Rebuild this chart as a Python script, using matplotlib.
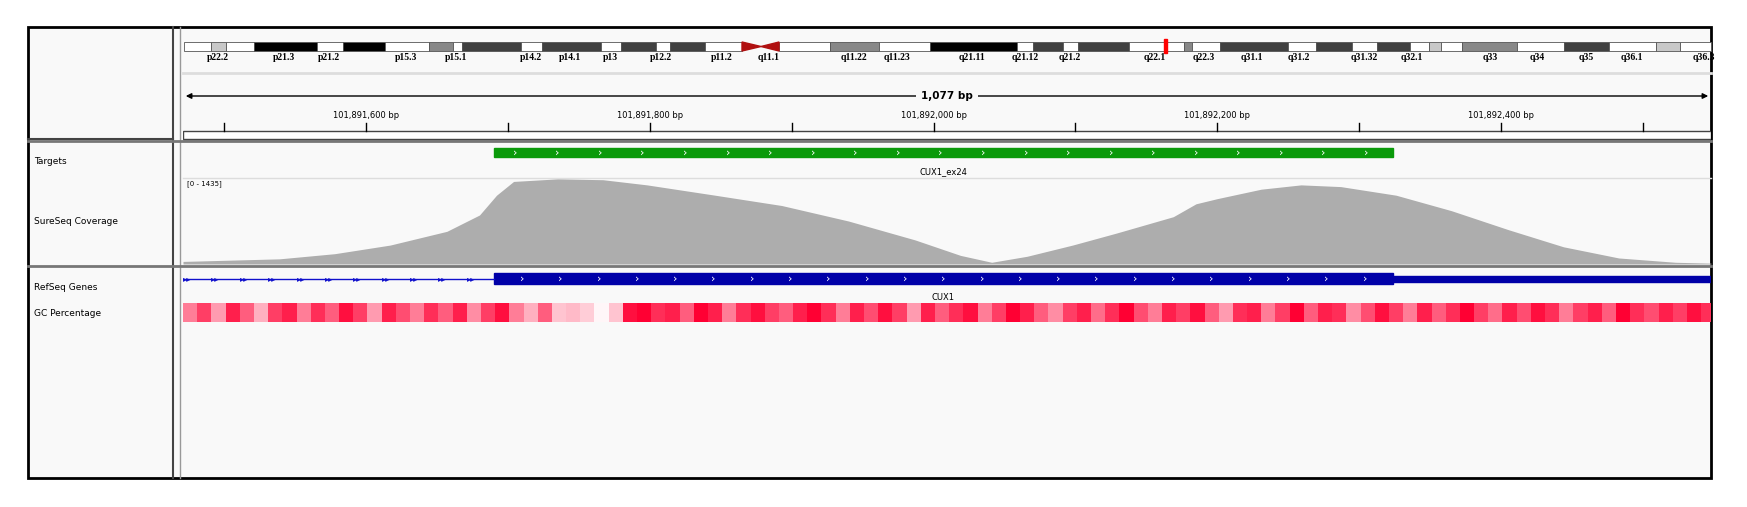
import matplotlib.pyplot as plt
import numpy as np
from matplotlib.colors import LinearSegmentedColormap

W, H = 1747, 507
START, END = 101891471, 101892548

# chr7 ideogram bands (pixel span, shade)
BANDS = [(184, 211, 'w'), (211, 226, '#c8c8c8'), (226, 254, 'w'), (254, 317, 'k'), (317, 343, 'w'),
         (343, 385, 'k'), (385, 429, 'w'), (429, 453, '#888888'), (453, 462, 'w'), (462, 521, '#404040'),
         (521, 542, 'w'), (542, 601, '#404040'), (601, 621, 'w'), (621, 656, '#404040'), (656, 670, 'w'),
         (670, 705, '#404040'), (705, 742, 'w'), (779, 830, 'w'), (830, 879, '#888888'), (879, 930, 'w'),
         (930, 1017, 'k'), (1017, 1033, 'w'), (1033, 1063, '#404040'), (1063, 1078, 'w'), (1078, 1129, '#404040'),
         (1129, 1184, 'w'), (1184, 1192, '#888888'), (1192, 1220, 'w'), (1220, 1288, '#404040'), (1288, 1316, 'w'),
         (1316, 1352, '#404040'), (1352, 1377, 'w'), (1377, 1410, '#404040'), (1410, 1429, 'w'),
         (1429, 1441, '#c8c8c8'), (1441, 1462, 'w'), (1462, 1517, '#888888'), (1517, 1564, 'w'),
         (1564, 1609, '#404040'), (1609, 1656, 'w'), (1656, 1680, '#c8c8c8'), (1680, 1711, 'w')]
BAND_LABELS = [(218, 'p22.2'), (284, 'p21.3'), (329, 'p21.2'), (406, 'p15.3'), (456, 'p15.1'), (531, 'p14.2'),
               (570, 'p14.1'), (610, 'p13'), (661, 'p12.2'), (722, 'p11.2'), (769, 'q11.1'), (854, 'q11.22'),
               (897, 'q11.23'), (972, 'q21.11'), (1025, 'q21.12'), (1070, 'q21.2'), (1155, 'q22.1'),
               (1204, 'q22.3'), (1252, 'q31.1'), (1299, 'q31.2'), (1364, 'q31.32'), (1412, 'q32.1'),
               (1490, 'q33'), (1537, 'q34'), (1586, 'q35'), (1632, 'q36.1'), (1704, 'q36.3')]

# coverage (offset from 101,891,600 bp, fraction of 1435)
COV_OFF = [-129, -61, -22, 17, 57, 80, 92, 104, 135, 167, 198, 246, 293, 340, 387, 419, 441, 466, 498,
           529, 569, 585, 600, 631, 659, 687, 726, 765, 805, 844, 883, 923, 948]
COV_FRAC = [0.03, 0.06, 0.12, 0.22, 0.38, 0.57, 0.80, 0.96, 0.99, 0.98, 0.92, 0.80, 0.68, 0.50, 0.28, 0.10,
            0.02, 0.09, 0.22, 0.36, 0.55, 0.70, 0.76, 0.87, 0.92, 0.90, 0.80, 0.62, 0.40, 0.20, 0.07, 0.02, 0.01]

# GC percentage, 10 bp bins
GC = [0.6, 0.8, 0.5, 0.9, 0.7, 0.4, 0.8, 0.9, 0.6, 0.85, 0.7, 0.95, 0.8, 0.5, 0.9, 0.75, 0.6, 0.85,
      0.7, 0.9, 0.55, 0.8, 0.95, 0.6, 0.4, 0.7, 0.3, 0.35, 0.25, 0.05, 0.3, 0.95, 1.0, 0.85, 0.9, 0.7,
      1.0, 0.9, 0.6, 0.85, 0.95, 0.8, 0.7, 0.9, 1.0, 0.85, 0.6, 0.9, 0.75, 0.95, 0.8, 0.5, 0.9, 0.7,
      0.85, 0.95, 0.6, 0.8, 1.0, 0.9, 0.7, 0.55, 0.8, 0.9, 0.65, 0.85, 1.0, 0.75, 0.6, 0.9, 0.8, 0.95,
      0.7, 0.5, 0.85, 0.9, 0.6, 0.8, 1.0, 0.7, 0.9, 0.85, 0.55, 0.75, 0.95, 0.8, 0.6, 0.9, 0.7, 0.85,
      1.0, 0.8, 0.65, 0.9, 0.75, 0.95, 0.85, 0.6, 0.8, 0.9, 0.7, 1.0, 0.85, 0.75, 0.9, 0.8, 0.95, 0.85]


def add_px_axes(fig, x0, y0, x1, y1):
    ax = fig.add_axes([x0 / W, 1 - y1 / H, (x1 - x0) / W, (y1 - y0) / H])
    ax.set_axis_off()
    return ax


def plot_igv():
    fig = plt.figure(figsize=(W / 100, H / 100), dpi=100)
    bg = fig.add_axes([0, 0, 1, 1])
    bg.set_xlim(0, W)
    bg.set_ylim(H, 0)
    bg.set_axis_off()
    bg.add_patch(plt.Rectangle((28, 27), 1683, 451, facecolor='#f9f9f9', edgecolor='black', lw=2))
    bg.plot([173, 173], [27, 478], color='#444444', lw=1.5)
    bg.plot([180, 180], [27, 478], color='#999999', lw=1)
    for y in (141, 266):
        bg.plot([28, 1711], [y, y], color='#777777', lw=2)
    bg.plot([28, 173], [139, 139], color='#444444', lw=1.5)
    bg.plot([183, 1711], [73, 73], color='#dddddd', lw=2)
    bg.plot([183, 1711], [178, 178], color='#dddddd', lw=1)
    for y, name in ((161, 'Targets'), (222, 'SureSeq Coverage'), (287, 'RefSeq Genes'), (314, 'GC Percentage')):
        bg.text(34, y, name, fontsize=6.5, va='center')

    # ideogram
    for x0, x1, c in BANDS:
        bg.add_patch(plt.Rectangle((x0, 42), x1 - x0, 9, facecolor=c, edgecolor='#555555', lw=0.6))
    bg.add_patch(plt.Polygon([(742, 42), (742, 51), (761, 46.5)], color='#b01010'))
    bg.add_patch(plt.Polygon([(779, 42), (779, 51), (761, 46.5)], color='#b01010'))
    bg.add_patch(plt.Rectangle((1164, 39), 3, 14, color='red'))
    for x, lab in BAND_LABELS:
        bg.text(x, 57, lab, fontsize=7, fontweight='bold', family='Liberation Serif', ha='center', va='center')

    # ruler
    ax = add_px_axes(fig, 183, 80, 1711, 141)
    ax.set_xlim(START, END)
    ax.set_ylim(61, 0)
    ax.annotate('', xy=(START, 16), xytext=(END, 16),
                arrowprops=dict(arrowstyle='<|-|>', color='black', lw=1, mutation_scale=8))
    ax.text((START + END) / 2, 16, '1,077 bp', ha='center', va='center', fontsize=7.5, fontweight='bold',
            bbox=dict(facecolor='#f9f9f9', edgecolor='none', pad=4))
    for pos in range(101891500, END, 100):
        ax.plot([pos, pos], [43, 51], color='black', lw=1)
        if pos % 200 == 0:
            ax.text(pos, 35, f'{pos:,} bp', ha='center', va='center', fontsize=6)
    ax.add_patch(plt.Rectangle((START, 51), END - START, 8, facecolor='white', edgecolor='#444444', lw=1))

    # targets
    ax = add_px_axes(fig, 183, 143, 1711, 178)
    ax.set_xlim(START, END)
    ax.set_ylim(35, 0)
    ax.add_patch(plt.Rectangle((101891690, 5), 634, 9, color='#0a9a0a'))
    for pos in range(101891705, 101892324, 30):
        ax.text(pos, 9.5, '›', color='white', fontsize=8, ha='center', va='center')
    ax.text(101892007, 29, 'CUX1_ex24', fontsize=6, ha='center', va='center')

    # coverage
    ax = add_px_axes(fig, 183, 178, 1711, 264)
    ax.set_xlim(START, END)
    ax.set_ylim(0, 1435)
    cov_x = 101891600 + np.array(COV_OFF)
    cov_y = np.array(COV_FRAC) * 1435
    ax.fill_between(cov_x, cov_y, color='#adadad', lw=0)
    ax.text(START + 3, 1390, '[0 - 1435]', fontsize=5, va='top')

    # genes
    ax = add_px_axes(fig, 183, 268, 1711, 302)
    ax.set_xlim(START, END)
    ax.set_ylim(34, 0)
    ax.plot([START, 101891690], [10.5, 10.5], color='#1010cc', lw=1)
    for pos in range(101891474, 101891690, 20):
        ax.text(pos, 10.5, '▸▸', color='#1010cc', fontsize=6, va='center', ha='center')
    ax.add_patch(plt.Rectangle((101891690, 5), 634, 11, color='#0000a8'))
    ax.add_patch(plt.Rectangle((101892324, 7.5), END - 101892324, 6, color='#0000a8'))
    for pos in range(101891710, 101892324, 27):
        ax.text(pos, 10.5, '›', color='white', fontsize=8, ha='center', va='center')
    ax.text(101892007, 30, 'CUX1', fontsize=6, ha='center', va='center')

    # GC percentage
    ax = add_px_axes(fig, 183, 303, 1711, 322)
    ax.set_xlim(START, END)
    cmap = LinearSegmentedColormap.from_list('gc', ['#ffffff', '#ff9cb0', '#ff0033'])
    edges = START + np.arange(len(GC) + 1) * 10
    ax.pcolormesh(edges, [0, 1], np.array([GC]), cmap=cmap, vmin=0, vmax=1)

    fig.savefig('out.png', dpi=100)


plot_igv()
